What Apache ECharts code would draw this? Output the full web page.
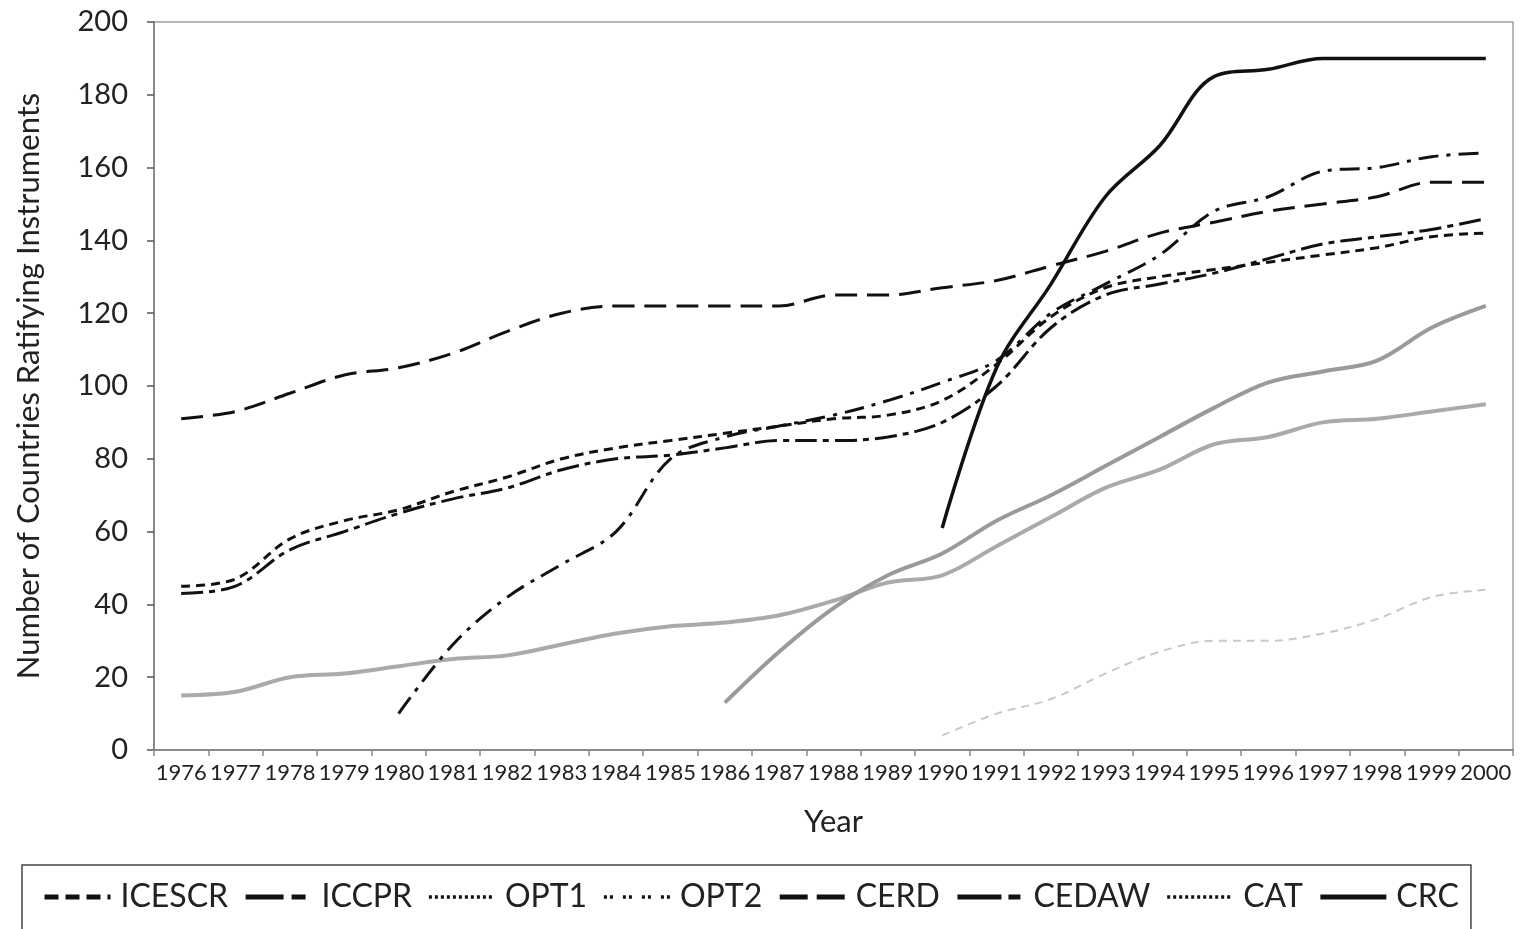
<!DOCTYPE html>
<html>
<head>
<meta charset="utf-8">
<script src="https://cdn.jsdelivr.net/npm/echarts@6/dist/echarts.min.js"></script>
<style>
html,body{margin:0;padding:0;background:#fff;}
#chart{width:1524px;height:929px;}
</style>
</head>
<body>
<div id="chart"></div>
<script>
const years = ['1976','1977','1978','1979','1980','1981','1982','1983','1984','1985','1986','1987','1988','1989','1990','1991','1992','1993','1994','1995','1996','1997','1998','1999','2000'];
const ICESCR = [45,47,58,63,66,71,75,80,83,85,87,89,91,92,96,106,119,127,130,132,134,136,138,141,142];
const ICCPR  = [43,45,55,60,65,69,72,77,80,81,83,85,85,86,90,100,116,125,128,131,135,139,141,143,146];
const OPT1   = [15,16,20,21,23,25,26,29,32,34,35,37,41,46,48,56,64,72,77,84,86,90,91,93,95];
const OPT2   = [null,null,null,null,null,null,null,null,null,null,null,null,null,null,4,10,14,21,27,30,30,32,36,42,44];
const CERD   = [91,93,98,103,105,109,115,120,122,122,122,122,125,125,127,129,133,137,142,145,148,150,152,156,156];
const CEDAW  = [null,null,null,null,10,29,42,51,60,80,86,89,92,96,101,107,120,128,136,148,152,159,160,163,164];
const CAT    = [null,null,null,null,null,null,null,null,null,null,13,27,39,48,54,63,70,78,86,94,101,104,107,116,122];
const CRC    = [null,null,null,null,null,null,null,null,null,null,null,null,null,null,61,105,128,152,166,185,187,190,190,190,190];

const FONT = 'Lato';
const TXT = '#222';

function mk(name, data, color, width, type, z) {
  return {
    name, type: 'line', data, smooth: 0.35, symbol: 'none', z: z || 2,
    lineStyle: { color, width, type, cap: 'butt' },
    itemStyle: { color },
    emphasis: { disabled: true }
  };
}

const series = [
  mk('ICESCR', ICESCR, '#111', 3, [9, 6]),
  mk('ICCPR', ICCPR, '#111', 3, [22, 6, 6, 6]),
  mk('OPT1', OPT1, '#aaaaaa', 4, 'solid', 1),
  mk('OPT2', OPT2, '#c8c8c8', 2, [8, 6], 1),
  mk('CERD', CERD, '#111', 3, [22, 10]),
  mk('CEDAW', CEDAW, '#111', 3, [20, 8, 4, 8]),
  mk('CAT', CAT, '#9a9a9a', 4, 'solid', 1),
  mk('CRC', CRC, '#111', 3.5, 'solid', 3)
];

const legendData = [
  { name: 'ICESCR', lineStyle: { color: '#111', width: 5, type: [14, 7], cap: 'butt' } },
  { name: 'ICCPR', lineStyle: { color: '#111', width: 5, type: [38, 8, 14, 8], cap: 'butt' } },
  { name: 'OPT1', lineStyle: { color: '#111', width: 3.5, type: [3, 3], cap: 'butt' } },
  { name: 'OPT2', lineStyle: { color: '#111', width: 3.5, type: [3, 3, 3, 10], cap: 'butt' } },
  { name: 'CERD', lineStyle: { color: '#111', width: 5, type: [28, 9], cap: 'butt' } },
  { name: 'CEDAW', lineStyle: { color: '#111', width: 5, type: [44, 7, 12, 7], cap: 'butt' } },
  { name: 'CAT', lineStyle: { color: '#111', width: 3.5, type: [3, 3], cap: 'butt' } },
  { name: 'CRC', lineStyle: { color: '#111', width: 5, type: 'solid', cap: 'butt' } }
];

const chart = echarts.init(document.getElementById('chart'), null, { renderer: 'canvas' });
chart.setOption({
  animation: false,
  backgroundColor: '#fff',
  textStyle: { fontFamily: FONT },
  grid: {
    left: 154, right: 11, top: 22, bottom: 179,
    show: true, borderColor: '#a0a0a0', borderWidth: 1.5, backgroundColor: 'transparent'
  },
  legend: {
    data: legendData,
    left: 22, top: 865,
    padding: [16, 12, 40, 20],
    itemWidth: 66, itemHeight: 14, itemGap: 15,
    borderColor: '#444', borderWidth: 1.5,
    selectedMode: false,
    itemStyle: { opacity: 0 },
    textStyle: { fontFamily: FONT, fontSize: 32, color: TXT, padding: [0, 0, 0, 5] }
  },
  xAxis: {
    type: 'category',
    data: years,
    boundaryGap: true,
    name: 'Year',
    nameLocation: 'middle',
    nameGap: 56,
    nameTextStyle: { fontFamily: FONT, fontSize: 31, color: TXT },
    axisLine: { lineStyle: { color: '#8a8a8a', width: 2 } },
    axisTick: { show: true, length: 6, alignWithLabel: false, interval: 0, lineStyle: { color: '#8a8a8a', width: 1.5 } },
    axisLabel: { interval: 0, margin: 12, fontFamily: FONT, fontSize: 22, color: TXT },
    splitLine: { show: false }
  },
  yAxis: {
    type: 'value',
    min: 0, max: 200, interval: 20,
    name: 'Number of Countries Ratifying Instruments',
    nameLocation: 'middle',
    nameGap: 110,
    nameTextStyle: { fontFamily: FONT, fontSize: 31, color: TXT },
    axisLine: { show: true, lineStyle: { color: '#8a8a8a', width: 2 } },
    axisTick: { show: true, length: 7, lineStyle: { color: '#555', width: 1.5 } },
    axisLabel: { margin: 26, fontFamily: FONT, fontSize: 29, color: TXT },
    splitLine: { show: false }
  },
  series
});
</script>
</body>
</html>
